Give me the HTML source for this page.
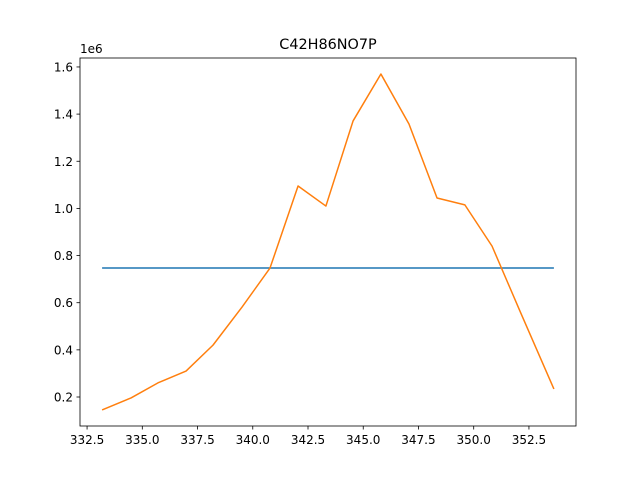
<!DOCTYPE html>
<html><head><meta charset="utf-8"><style>
body{margin:0;background:#fff;font-family:"Liberation Sans","DejaVu Sans",sans-serif;}
svg text{font-family:"DejaVu Sans","Liberation Sans",sans-serif;}
</style></head><body>
<svg id="chart" width="640" height="480">
<rect width="640" height="480" fill="#fff"/>
<text x="328" y="49" font-size="14.4" text-anchor="middle">C42H86NO7P</text>
<text x="80" y="53" font-size="12">1e6</text>
<g id="plot"></g>
<rect x="80" y="58" width="496" height="368" fill="none" stroke="#000" stroke-width="0.8"/>
</svg>
<script>
const xValues=[333.18,334.49,335.71,336.98,338.2,339.51,340.78,342.05,343.31,344.54,345.8,347.07,348.34,349.6,350.83,352.09,353.63];
const seriesOrange=[0.145,0.196,0.26,0.31,0.42,0.581,0.747,1.095,1.01,1.371,1.57,1.358,1.044,1.015,0.84,0.565,0.234];
const seriesBlue=[0.747,0.747];
const blueX=[333.18,353.63];
const xTicks=[332.5,335.0,337.5,340.0,342.5,345.0,347.5,350.0,352.5];
const yTicks=[0.2,0.4,0.6,0.8,1.0,1.2,1.4,1.6];
const X0=80,X1=576,Y0=426,Y1=58;
const xMin=332.18,xMax=354.63,yMin=0.077,yMax=1.638;
const sx=v=>X0+(v-xMin)/(xMax-xMin)*(X1-X0);
const sy=v=>Y0-(v-yMin)/(yMax-yMin)*(Y0-Y1);
const g=document.getElementById('plot');
const NS='http://www.w3.org/2000/svg';
function mk(t,a){const e=document.createElementNS(NS,t);for(const k in a)e.setAttribute(k,a[k]);g.appendChild(e);return e;}
xTicks.forEach(t=>{const x=sx(t);
const l=mk('line',{x1:x,x2:x,y1:426,y2:429.5,stroke:'#000','stroke-width':0.8});


const tx=mk('text',{x:x,y:444,'font-size':12,'text-anchor':'middle'});tx.textContent=t.toFixed(1);

});
yTicks.forEach(t=>{const y=sy(t);
const l=mk('line',{x1:76.5,x2:80,y1:y,y2:y,stroke:'#000','stroke-width':0.8});


const tx=mk('text',{x:73,y:y+4.5,'font-size':12,'text-anchor':'end'});tx.textContent=t.toFixed(1);

});
const pb=mk('polyline',{points:blueX.map((x,i)=>sx(x)+','+sy(seriesBlue[i])).join(' '),fill:'none',stroke:'#1f77b4','stroke-width':1.5});


const po=mk('polyline',{points:xValues.map((x,i)=>sx(x)+','+sy(seriesOrange[i])).join(' '),fill:'none',stroke:'#ff7f0e','stroke-width':1.5,'stroke-linejoin':'round'});


</script>
</body></html>
